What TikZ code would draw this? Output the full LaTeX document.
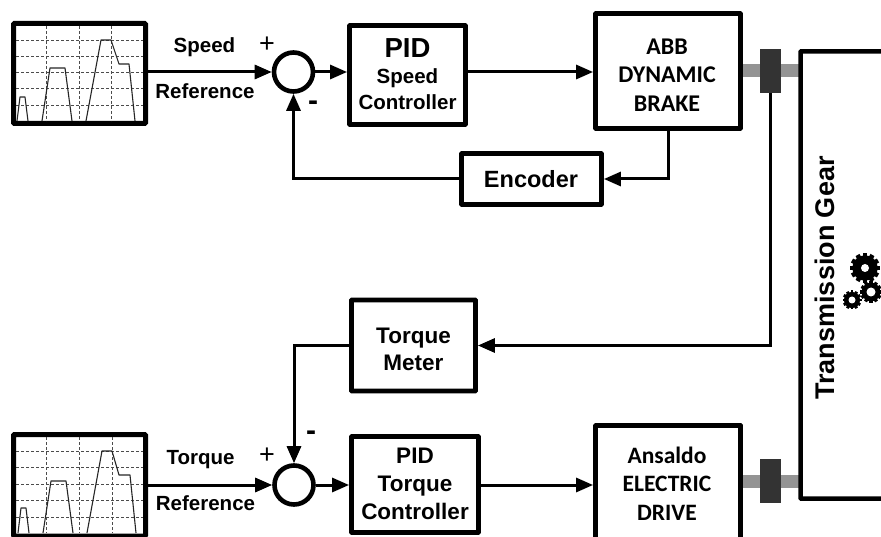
\documentclass[tikz,border=0pt]{standalone}
\usepackage{fontspec}
\setmainfont{Liberation Sans}
\newfontfamily\calib{Carlito}
\usetikzlibrary{arrows.meta,calc}
\tikzset{
  blockbox/.style={draw=black,line width=4.8pt,fill=white,rounded corners=0.5pt,inner sep=0pt,align=center},
  blocktext/.style={inner sep=0pt,align=center,font=\bfseries\fontsize{22.5}{28}\selectfont},
  chartbox/.style={draw=black,line width=5pt,rounded corners=1pt,inner sep=0pt},
  sumnode/.style={circle,draw=black,line width=4.6pt,fill=white,minimum size=39pt,inner sep=0pt},
  sig/.style={draw=black,line width=3pt,-{Triangle[length=17pt,width=14pt]}},
  lbl/.style={font=\bfseries\fontsize{20.5}{24}\selectfont,inner sep=0pt},
  signmark/.style={font=\fontsize{27}{28}\selectfont,inner sep=0pt},
  minusmark/.style={font=\bfseries\fontsize{30}{30}\selectfont,inner sep=0pt},
  shaft/.style={fill=black!42,draw=none},
  coupler/.style={fill=black!80,draw=none,minimum width=21pt,minimum height=44pt,inner sep=0pt},
  gridline/.style={draw=black!70,line width=0.9pt,densely dashed},
  trace/.style={draw=black!85,line width=1.1pt,line join=round},
}
\newcommand{\gearshape}[4]{% x y outer hole
  \fill[black] (#1,#2) circle ({#3*0.85});
  \foreach \a in {0,30,...,330}{
    \fill[black,rotate around={\a:(#1,#2)}] ($(#1,#2)+({-#3*0.15},0)$) rectangle ($(#1,#2)+({#3*0.15},{#3})$);
  }
  \fill[white] (#1,#2) circle (#4);
}
\begin{document}
\begin{tikzpicture}[x=1pt,y=-1pt]
\useasboundingbox (0,0) rectangle (881,537);
\clip (0,0) rectangle (881,537);
\fill[white] (0,0) rectangle (881,537);

% shafts
\fill[shaft] (741,64) rectangle (800,77);
\fill[shaft] (741,475) rectangle (800,488);

% charts
\node[chartbox,minimum width=132pt,minimum height=100pt] (chartA) at (79.5,73.5) {};
\foreach \y in {40,56,72,88,105} \draw[gridline] (16,\y) -- (143,\y);
\foreach \x in {46,79,111} \draw[gridline] (\x,26) -- (\x,121);
\draw[trace] (17,121) -- (20,97) -- (25,97) -- (28,121);
\draw[trace] (42,121) -- (50,68) -- (65,68) -- (72,121);
\draw[trace] (86,121) -- (101,40) -- (111,40) -- (119,64) -- (129,64) -- (135,121);

\node[chartbox,minimum width=132pt,minimum height=101.5pt] (chartB) at (79.5,485.25) {};
\foreach \y in {451,467,484,500,517} \draw[gridline] (16,\y) -- (143,\y);
\foreach \x in {46,79,112} \draw[gridline] (\x,437) -- (\x,533);
\draw[trace] (18,533) -- (21,508) -- (26,508) -- (29,533);
\draw[trace] (43,533) -- (51,481) -- (66,481) -- (73,533);
\draw[trace] (87,533) -- (102,451) -- (112,451) -- (119,475) -- (130,475) -- (136,533);

% blocks
\node[sumnode] (sumA) at (293.5,72) {};
\node[sumnode] (sumB) at (294,485) {};
\node[blockbox,minimum width=116pt,minimum height=99pt] (pidA) at (407.5,75) {};
\node[blocktext] (pidAt) at (407.5,74.5) {{\fontsize{27.5}{30}\selectfont PID}\\[-2pt]{\fontsize{20.5}{25}\selectfont Speed}\\[-2pt]{\fontsize{20.5}{25}\selectfont Controller}};
\node[blockbox,minimum width=145pt,minimum height=115pt] (brake) at (668,71) {};
\node[blocktext,font=\calib\bfseries\fontsize{24}{28.5}\selectfont] (braket) at (667,75) {ABB\\DYNAMIC\\BRAKE};
\node[blockbox,minimum width=140pt,minimum height=51pt] (enc) at (531.5,179) {};
\node[blocktext,font=\bfseries\fontsize{23.5}{28}\selectfont] (enct) at (531,179) {Encoder};
\node[blockbox,minimum width=124pt,minimum height=91pt] (meter) at (413.5,345.5) {};
\node[blocktext,font=\bfseries\fontsize{22.5}{27}\selectfont] (metert) at (413.5,349.5) {Torque\\Meter};
\node[blockbox,minimum width=127pt,minimum height=96pt] (pidB) at (415,484.5) {};
\node[blocktext] (pidBt) at (415,483.5) {PID\\Torque\\Controller};
\node[blockbox,minimum width=145pt,minimum height=134pt,anchor=north] (drive) at (668,423) {};
\node[blocktext,font=\calib\bfseries\fontsize{23.5}{28.5}\selectfont] (drivet) at (667,483.5) {Ansaldo\\ELECTRIC\\DRIVE};
\node[draw=black,line width=4.5pt,rounded corners=0.5pt,minimum width=110pt,minimum height=447pt,inner sep=0pt,anchor=north west] (gear) at (798.25,49.25) {};
\node[rotate=90,font=\bfseries\fontsize{27}{30}\selectfont,inner sep=0pt] (geart) at (825,278) {Transmission Gear};

% couplers
\node[coupler] (cA) at (770.5,71) {};
\node[coupler] (cB) at (770.5,481) {};

% gears
\gearshape{865}{268}{15}{4}
\gearshape{871}{292}{11}{4.5}
\gearshape{852}{300}{9.5}{3.5}

% connectors
\draw[sig] (chartA.east |- sumA.west) -- (sumA.west);
\draw[sig] (sumA.east) -- (pidA.west |- sumA.east);
\draw[sig] (pidA.east |- sumA.east) -- (brake.west |- sumA.east);
\draw[sig] (brake.south) |- (enc.east);
\draw[sig] (enc.west) -| (sumA.south);
\draw[sig] (cA.south) |- (meter.east);
\draw[sig] (meter.west) -| (sumB.north);
\draw[sig] (chartB.east |- sumB.west) -- (sumB.west);
\draw[sig] (sumB.east) -- (pidB.west |- sumB.east);
\draw[sig] (pidB.east |- sumB.east) -- (drive.west |- sumB.east);

% labels
\node[lbl] (l1) at (204.5,47) {Speed};
\node[lbl] (l2) at (205,91) {Reference};
\node[lbl] (l3) at (200.5,460) {Torque};
\node[lbl] (l4) at (205.5,503) {Reference};
\node[signmark] (s1) at (267,45) {+};
\node[minusmark] (s2) at (313,106) {-};
\node[signmark] (s3) at (267,456) {+};
\node[minusmark] (s4) at (311,436) {-};
\end{tikzpicture}
\end{document}
